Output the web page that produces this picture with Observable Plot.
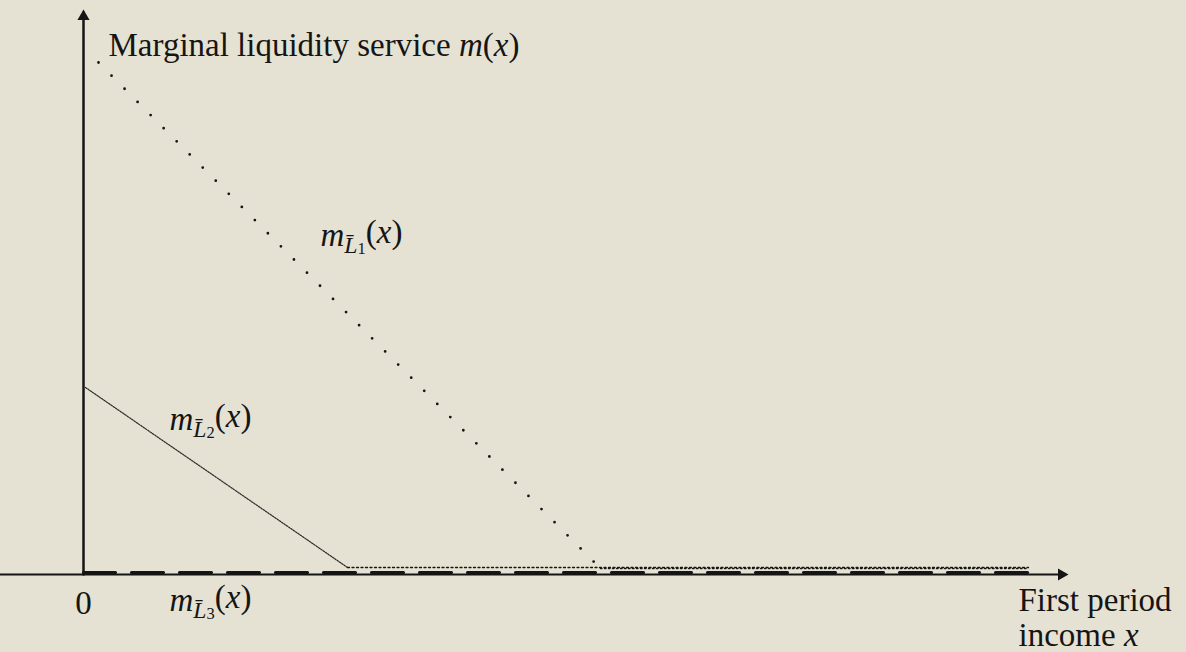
<!DOCTYPE html>
<html><head><meta charset="utf-8">
<script src="https://cdn.jsdelivr.net/npm/d3@7"></script>
<script src="https://cdn.jsdelivr.net/npm/@observablehq/plot@0.6"></script>
<style>
html,body{margin:0;padding:0;background:#e5e2d3;overflow:hidden;}
svg text{font-family:"Liberation Serif","DejaVu Serif",serif;}
</style></head><body><div id="chart"></div>
<script>
// Schematic figure values (x: first period income, y: marginal liquidity service)
const xAxisX = [-0.83, 9.82];
const yAxisY = [0, 11.24];
const l1SlopeX = [0.15, 5.17];
const l1SlopeY = [10.24, 0.12];
const l1FlatX = [5.17, 9.45];
const l1FlatY = [0.12, 0.12];
const l2SlopeX = [0.02, 2.64];
const l2SlopeY = [3.74, 0.14];
const l2FlatX = [2.64, 9.45];
const l2FlatY = [0.14, 0.14];
const l3X = [0, 9.45];
const l3Y = [0.04, 0.04];
const labelText = ["Marginal liquidity service m(x)", "m_1(x)", "m_2(x)", "m_3(x)", "First period\nincome x"];
const labelX = [0.25, 2.37, 0.86, 0.86, 9.35];
const labelY = [10.38, 6.58, 2.9, -0.72, -1.42];
const zeroText = ["0"];
const zeroX = [0];
const zeroY = [-0.78];

const pts = (xs, ys) => xs.map((x, i) => ({x, y: ys[i]}));
const labels = labelText.map((t, i) => ({t, x: labelX[i], y: labelY[i]}));
const ink = "#151515";
const fs = 33;

const chart = Plot.plot({
  width: 1186, height: 652,
  marginLeft: 0, marginRight: 0, marginTop: 0, marginBottom: 0,
  x: {domain: [0, 9.82], range: [83, 1065], axis: null},
  y: {domain: [0, 10], range: [574, 74], axis: null},
  style: {background: "transparent", overflow: "visible"},
  marks: [
    // axes
    Plot.line(pts(xAxisX, [0, 0]), {x: "x", y: "y", stroke: ink, strokeWidth: 2}),
    Plot.line(pts([0, 0], yAxisY), {x: "x", y: "y", stroke: ink, strokeWidth: 2.5}),
    Plot.dot([{x: xAxisX[1], y: 0}], {x: "x", y: "y", symbol: "triangle", r: 4.5, fill: ink, stroke: null, rotate: 90, dx: -4}),
    Plot.dot([{x: 0, y: yAxisY[1]}], {x: "x", y: "y", symbol: "triangle", r: 4.5, fill: ink, stroke: null, dy: 4}),
    // L3 dashed on the axis
    Plot.line(pts(l3X, l3Y), {x: "x", y: "y", stroke: ink, strokeWidth: 3.2, strokeDasharray: "32,16"}),
    // L1 dotted
    Plot.line(pts(l1SlopeX, l1SlopeY), {x: "x", y: "y", stroke: ink, strokeWidth: 2.8, strokeLinecap: "round", strokeDasharray: "0,18.5"}),
    Plot.line(pts(l1FlatX, l1FlatY), {x: "x", y: "y", stroke: ink, strokeWidth: 1.4, strokeDasharray: "1.5,2.5"}),
    // L2 fine dotted line then dotted flat part
    Plot.line(pts(l2SlopeX, l2SlopeY), {x: "x", y: "y", stroke: "#2a2a2a", strokeWidth: 1.2, strokeDasharray: "1.6,1.2"}),
    Plot.line(pts(l2FlatX, l2FlatY), {x: "x", y: "y", stroke: ink, strokeWidth: 1.3, strokeDasharray: "2,2.5"}),
    // labels
    Plot.text(labels, {x: "x", y: "y", text: "t", textAnchor: "start", lineAnchor: "bottom", fontSize: fs, fill: ink, lineHeight: 1.05}),
    Plot.text(pts(zeroX, zeroY), {x: "x", y: "y", text: () => zeroText[0], textAnchor: "middle", lineAnchor: "bottom", fontSize: fs, fill: ink})
  ]
});
document.getElementById("chart").appendChild(chart);

// typeset math parts with tspans
d3.select(chart).selectAll("text").each(function() {
  const el = d3.select(this);
  if (el.selectAll("tspan").size() > 0) {
    el.selectAll("tspan").each(function() {
      const ts = d3.select(this);
      if (ts.text() === "income x") {
        ts.text("income ");
        ts.append("tspan").attr("font-style", "italic").text("x");
      }
    });
    return;
  }
  const t = el.text();
  let m;
  if (t === "Marginal liquidity service m(x)") {
    el.text("Marginal liquidity service ");
    el.append("tspan").attr("font-style", "italic").text("m");
    el.append("tspan").text("(");
    el.append("tspan").attr("font-style", "italic").text("x");
    el.append("tspan").text(")");
  } else if ((m = t.match(/^m_(\d)\(x\)$/))) {
    el.text("");
    el.append("tspan").attr("font-style", "italic").text("m");
    el.append("tspan").attr("font-style", "italic").attr("font-size", "0.72em").attr("dy", "0.3em").text("L\u0304");
    el.append("tspan").attr("font-size", "0.5em").attr("dy", "0.1em").text(m[1]);
    el.append("tspan").attr("dy", "-0.33em").text("(");
    el.append("tspan").attr("font-style", "italic").text("x");
    el.append("tspan").text(")");
  }
});
</script></body></html>
